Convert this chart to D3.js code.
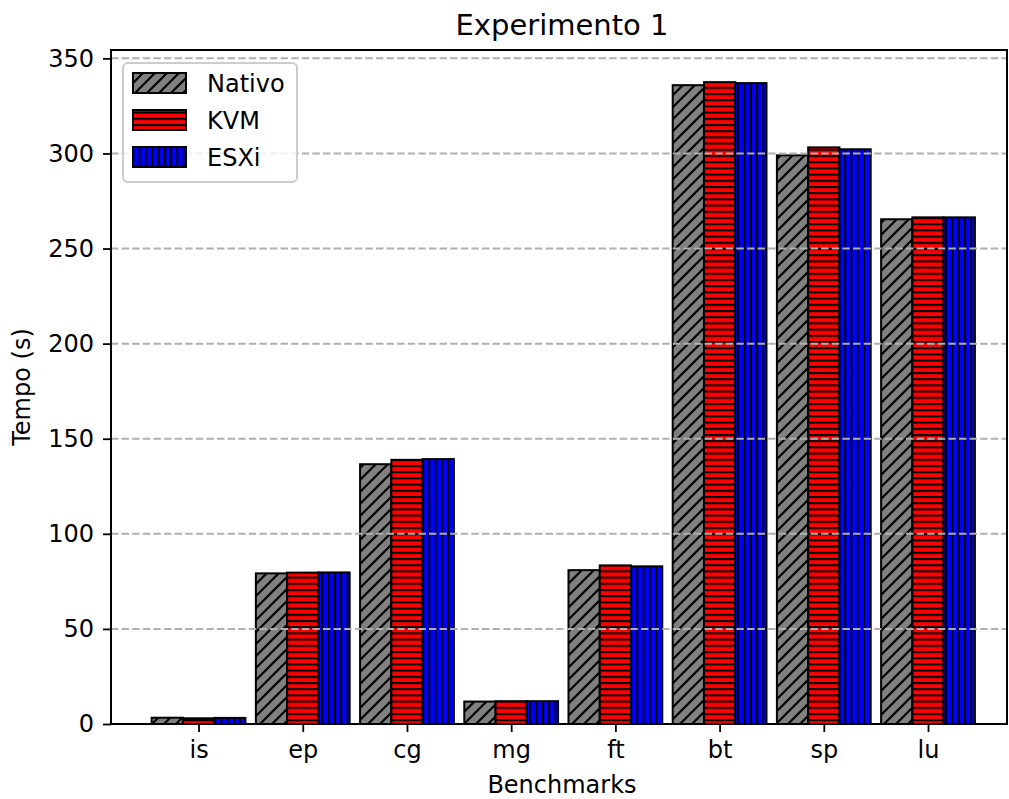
<!DOCTYPE html>
<html>
<head>
<meta charset="utf-8">
<script src="https://cdn.jsdelivr.net/npm/d3@7"></script>
<style>
  body { margin: 0; background: #fff; }
  svg { font-family: "DejaVu Sans", sans-serif; }
</style>
</head>
<body>
<svg></svg>
<script>
const width = 1009;
const height = 799;

const categories = ['is', 'ep', 'cg', 'mg', 'ft', 'bt', 'sp', 'lu'];
const nativo = [3.3, 79.2, 136.6, 11.8, 80.9, 335.9, 299.0, 265.4];
const kvm = [3.0, 79.6, 138.9, 12.0, 83.4, 337.5, 303.2, 266.4];
const esxi = [3.2, 79.7, 139.3, 12.0, 82.9, 337.0, 302.2, 266.4];
const seriesNames = ['Nativo', 'KVM', 'ESXi'];
const yTicks = [0, 50, 100, 150, 200, 250, 300, 350];

const series = [nativo, kvm, esxi];
const barWidth = 0.3;

const svg = d3.select('svg')
    .attr('width', width).attr('height', height);

const x = d3.scaleLinear().domain([-0.845, 7.758]).range([110.5, 1007]);
const y = d3.scaleLinear().domain([0, 354.4]).range([724, 50]);

// hatch patterns
const defs = svg.append('defs');

const pGray = defs.append('pattern')
    .attr('id', 'hatch-gray')
    .attr('patternUnits', 'userSpaceOnUse')
    .attr('width', 12).attr('height', 12);
pGray.append('rect').attr('width', 12).attr('height', 12).attr('fill', '#808080');
pGray.append('path')
    .attr('d', 'M-3,15 L15,-3 M-3,3 L3,-3 M9,15 L15,9')
    .attr('stroke', '#000').attr('stroke-width', 2.2);

const pRed = defs.append('pattern')
    .attr('id', 'hatch-red')
    .attr('patternUnits', 'userSpaceOnUse')
    .attr('width', 10).attr('height', 6.2);
pRed.append('rect').attr('width', 10).attr('height', 6.2).attr('fill', '#ff0000');
pRed.append('rect').attr('y', 0).attr('width', 10).attr('height', 2).attr('fill', '#000');

const pBlue = defs.append('pattern')
    .attr('id', 'hatch-blue')
    .attr('patternUnits', 'userSpaceOnUse')
    .attr('width', 6.3).attr('height', 10);
pBlue.append('rect').attr('width', 6.3).attr('height', 10).attr('fill', '#0000ff');
pBlue.append('rect').attr('x', 0).attr('width', 2).attr('height', 10).attr('fill', '#000');

const fills = ['url(#hatch-gray)', 'url(#hatch-red)', 'url(#hatch-blue)'];

// bars
series.forEach((vals, s) => {
    svg.append('g').selectAll('rect')
        .data(vals)
        .enter().append('rect')
        .attr('x', (d, i) => x(i + (s - 1) * barWidth - barWidth / 2))
        .attr('width', x(barWidth) - x(0))
        .attr('y', d => y(d))
        .attr('height', d => y(0) - y(d))
        .attr('fill', fills[s])
        .attr('stroke', '#000')
        .attr('stroke-width', 2);
});

// grid on top of bars
svg.append('g').selectAll('line')
    .data(yTicks)
    .enter().append('line')
    .attr('x1', 111).attr('x2', 1007)
    .attr('y1', d => y(d)).attr('y2', d => y(d))
    .attr('stroke', '#b0b0b0')
    .attr('stroke-width', 2)
    .attr('stroke-dasharray', '7.4,3.2');

// axes
const yAxis = d3.axisLeft(y).tickValues(yTicks).tickSize(8).tickPadding(9);
const gy = svg.append('g').attr('transform', 'translate(111,0)').call(yAxis);
const xAxis = d3.axisBottom(x).tickValues(d3.range(categories.length))
    .tickFormat(i => categories[i]).tickSize(8).tickPadding(9);
const gx = svg.append('g').attr('transform', 'translate(0,724)').call(xAxis);

[gx, gy].forEach(g => {
    g.select('.domain').remove();
    g.selectAll('.tick line').attr('stroke', '#000').attr('stroke-width', 1.8);
    g.selectAll('.tick text')
        .attr('font-family', '"DejaVu Sans", sans-serif')
        .attr('font-size', 24)
        .attr('fill', '#000');
});

// frame
svg.append('rect')
    .attr('x', 111).attr('y', 50)
    .attr('width', 1007 - 111).attr('height', 724 - 50)
    .attr('fill', 'none')
    .attr('stroke', '#000')
    .attr('stroke-width', 2);

// labels
svg.append('text')
    .attr('x', 562).attr('y', 35)
    .attr('text-anchor', 'middle')
    .attr('font-size', 29)
    .text('Experimento 1');

svg.append('text')
    .attr('x', 562).attr('y', 793)
    .attr('text-anchor', 'middle')
    .attr('font-size', 24)
    .text('Benchmarks');

svg.append('text')
    .attr('transform', 'translate(30,387) rotate(-90)')
    .attr('text-anchor', 'middle')
    .attr('font-size', 24)
    .text('Tempo (s)');

// legend
const legend = svg.append('g');
legend.append('rect')
    .attr('x', 123).attr('y', 63)
    .attr('width', 174).attr('height', 119)
    .attr('rx', 5)
    .attr('fill', '#fff').attr('fill-opacity', 0.8)
    .attr('stroke', '#cccccc').attr('stroke-width', 2);

seriesNames.forEach((name, s) => {
    const cy = 83 + s * 37;
    legend.append('rect')
        .attr('x', 133).attr('y', cy - 10)
        .attr('width', 53).attr('height', 20)
        .attr('fill', fills[s])
        .attr('stroke', '#000').attr('stroke-width', 2);
    legend.append('text')
        .attr('x', 207).attr('y', cy + 9)
        .attr('font-size', 24)
        .text(name);
});
</script>
</body>
</html>
